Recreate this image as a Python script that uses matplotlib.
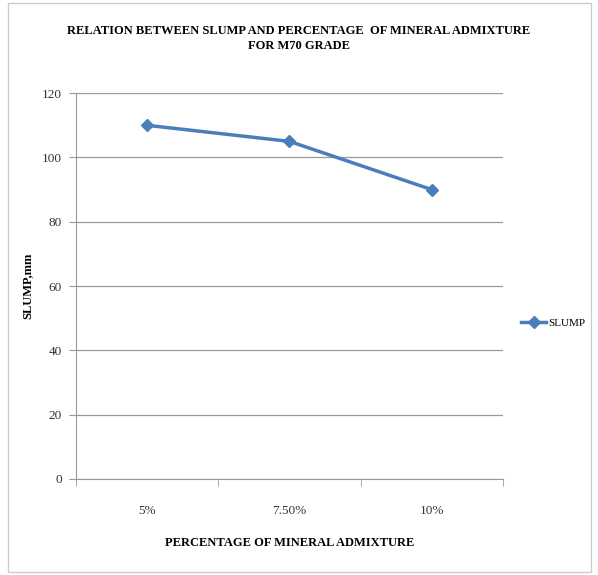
import matplotlib.pyplot as plt
from matplotlib.patches import Rectangle

categories = ["5%", "7.50%", "10%"]
slump = [110, 105, 90]
yticks = [0, 20, 40, 60, 80, 100, 120]

plt.rcParams['font.family'] = 'Liberation Serif'

fig = plt.figure(figsize=(5.98, 5.75), dpi=100)
ax = fig.add_axes([0.127, 0.167, 0.714, 0.671])

x = [i + 0.5 for i in range(len(categories))]
ax.plot(x, slump, color='#4a7ebb', lw=2.5, marker='D', ms=6, label='SLUMP')

ax.set_xlim(0, 3)
ax.set_ylim(0, 120)
ax.set_yticks(yticks)
ax.set_xticks(x)
ax.set_xticklabels(categories)
ax.set_xticks([0, 1, 2, 3], minor=True)
ax.tick_params(axis='x', which='major', length=0, pad=19, labelsize=9.5, colors='#333333')
ax.tick_params(axis='x', which='minor', length=5, color='#999999')
ax.tick_params(axis='y', length=5, color='#999999', labelsize=9.5, colors='#333333', pad=5)
ax.grid(axis='y', color='#999999', lw=0.9)
for s in ['top', 'right']:
    ax.spines[s].set_visible(False)
ax.spines['left'].set_color('#999999')
ax.spines['bottom'].set_color('#999999')
ax.set_axisbelow(True)

ax.set_xlabel('PERCENTAGE OF MINERAL ADMIXTURE', fontsize=9, fontweight='bold', labelpad=14)
ax.set_ylabel('SLUMP,mm', fontsize=9, fontweight='bold', labelpad=6)
fig.text(0.5, 0.933, 'RELATION BETWEEN SLUMP AND PERCENTAGE  OF MINERAL ADMIXTURE\nFOR M70 GRADE',
         ha='center', va='center', fontsize=9, fontweight='bold', linespacing=1.3)

ax.legend(loc='center left', bbox_to_anchor=(1.02, 0.404), frameon=False, fontsize=8,
          handlelength=2.2, handletextpad=0.2)

fig.patches.append(Rectangle((0.013, 0.005), 0.975, 0.99, transform=fig.transFigure,
                             fill=False, ec='#cccccc', lw=1))

fig.savefig('out.png', dpi=100)
